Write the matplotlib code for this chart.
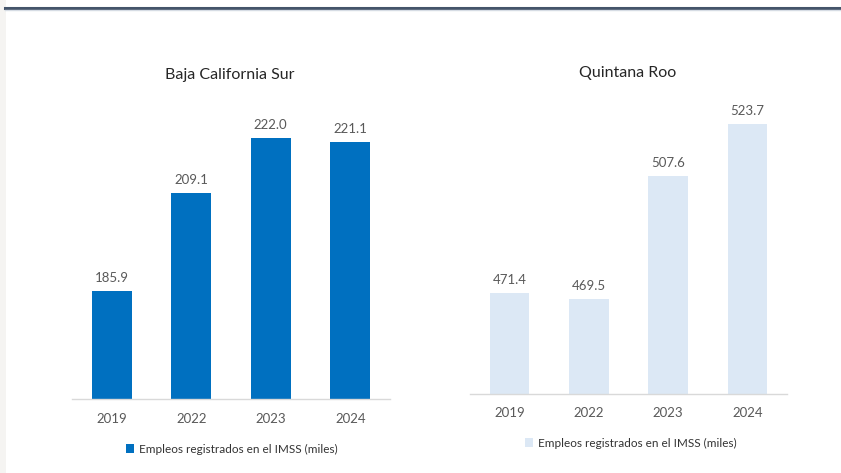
import matplotlib
matplotlib.use("Agg")
import matplotlib.pyplot as plt
from matplotlib.lines import Line2D

years = ["2019", "2022", "2023", "2024"]
bcs_values = [185.9, 209.1, 222.0, 221.1]
qroo_values = [471.4, 469.5, 507.6, 523.7]
titles = ["Baja California Sur", "Quintana Roo"]
legend_label = "Empleos registrados en el IMSS (miles)"

plt.rcParams['font.family'] = ['Lato', 'DejaVu Sans']

W, H = 841, 473
fig = plt.figure(figsize=(W / 100, H / 100), dpi=100)
fig.patch.set_facecolor("white")

def fx(px):
    return px / W

def fy(py):
    return 1 - py / H

# top rule
fig.add_artist(Line2D([fx(5), 1], [fy(8), fy(8)], color="#44546a", lw=2.2))
fig.add_artist(Line2D([fx(5), 1], [fy(10.5), fy(10.5)], color="#d6dce4", lw=1.0))
# faint left strip
fig.add_artist(plt.Rectangle((0, 0), fx(6), 1, color="#f5f4f2", lw=0))

specs = [
    dict(vals=bcs_values, color="#0070C0", left=72, right=390, base=399, top=104,
         ylim=(160.4, 230.0), title=titles[0], tx=230, ty=75, tick_y=420, leg_y=449, leg_x=232),
    dict(vals=qroo_values, color="#DCE8F5", left=470, right=787, base=394, top=71,
         ylim=(440.1, 540.0), title=titles[1], tx=628, ty=73, tick_y=414, leg_y=443, leg_x=631),
]

for s in specs:
    ax = fig.add_axes([fx(s["left"]), fy(s["base"]),
                       (s["right"] - s["left"]) / W, (s["base"] - s["top"]) / H])
    x = list(range(len(years)))
    bars = ax.bar(x, s["vals"], width=0.5, color=s["color"], label=legend_label, zorder=2)
    ax.set_xlim(-0.5, len(years) - 0.5)
    ax.set_ylim(*s["ylim"])
    for xi, v in zip(x, s["vals"]):
        ax.annotate(f"{v:.1f}", (xi, v), xytext=(0, 5), textcoords="offset points",
                    ha="center", va="bottom", fontsize=9.5, color="#595959")
    for sp in ["top", "right", "left"]:
        ax.spines[sp].set_visible(False)
    ax.spines["bottom"].set_color("#d9d9d9")
    ax.spines["bottom"].set_linewidth(1.0)
    ax.set_yticks([])
    ax.set_xticks(x)
    ax.set_xticklabels(years, fontsize=9.5, color="#595959")
    ax.tick_params(axis="x", length=0, pad=(s["tick_y"] - s["base"]) * 0.72 - 5)
    ax.patch.set_alpha(0)
    fig.text(fx(s["tx"]), fy(s["ty"]), s["title"], ha="center", va="center",
             fontsize=11.5, color="#262626")
    fig.legend(handles=[bars], labels=[legend_label], loc="center",
               bbox_to_anchor=(fx(s["leg_x"]), fy(s["leg_y"])), frameon=False,
               fontsize=8.5, handlelength=0.7, handleheight=0.7, handletextpad=0.4,
               labelcolor="#333333")

fig.savefig("out.png", dpi=100, facecolor="white")
